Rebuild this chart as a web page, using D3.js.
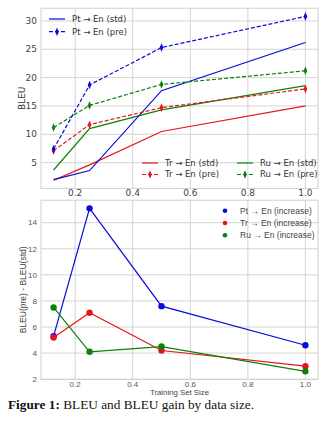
<!DOCTYPE html>
<html>
<head>
<meta charset="utf-8">
<script src="https://cdn.jsdelivr.net/npm/d3@7"></script>
<style>
body { margin: 0; background: white; }
svg { display: block; }
</style>
</head>
<body>
<div id="plot"></div>
<script>
// training set size (fraction)
var sizes = [0.125, 0.25, 0.5, 1.0];

// BLEU, top panel
var ptStd = [2.0, 3.6, 17.7, 26.2];
var ptPre = [7.4, 18.7, 25.3, 30.8];
var trStd = [1.9, 4.6, 10.5, 15.0];
var trPre = [7.1, 11.7, 14.7, 18.0];
var ruStd = [3.7, 11.0, 14.3, 18.6];
var ruPre = [11.2, 15.1, 18.8, 21.2];

// BLEU(pre) - BLEU(std), bottom panel
var ptInc = [5.3, 15.1, 7.6, 4.6];
var trInc = [5.2, 7.1, 4.2, 3.0];
var ruInc = [7.5, 4.1, 4.5, 2.6];

var xTicks = [0.2, 0.4, 0.6, 0.8, 1.0];
var yTicksTop = [5, 10, 15, 20, 25, 30];
var yTicksBot = [2, 4, 6, 8, 10, 12, 14];

var BLUE = '#0a0adc', RED = '#e8141c', GREEN = '#0a820a';

var width = 335, height = 427;
var svg = d3.select('#plot').append('svg')
    .attr('width', width)
    .attr('height', height);

var left = 41, right = 318;

// matplotlib style 5% margins
function padded(lo, hi) {
    var m = (hi - lo) * 0.05;
    return [lo - m, hi + m];
}

var x = d3.scaleLinear().domain(padded(0.125, 1.0)).range([left, right]);

function frame(y, ticks, font, tickColor, fontSize) {
    var g = svg.append('g');
    var y0 = y.range()[0], y1 = y.range()[1];
    // grid
    g.selectAll('.vg').data(xTicks).enter().append('line')
        .attr('x1', function(d) { return x(d); })
        .attr('x2', function(d) { return x(d); })
        .attr('y1', y0).attr('y2', y1)
        .attr('stroke', '#d4d4d4').attr('stroke-width', 1);
    g.selectAll('.hg').data(ticks).enter().append('line')
        .attr('x1', left).attr('x2', right)
        .attr('y1', function(d) { return y(d); })
        .attr('y2', function(d) { return y(d); })
        .attr('stroke', '#d4d4d4').attr('stroke-width', 1);
    g.append('rect')
        .attr('x', left).attr('y', y1)
        .attr('width', right - left).attr('height', y0 - y1)
        .attr('fill', 'none').attr('stroke', '#cfcfcf').attr('stroke-width', 1);
    // tick labels
    g.selectAll('.xt').data(xTicks).enter().append('text')
        .attr('x', function(d) { return x(d); })
        .attr('y', y0 + 1.5)
        .attr('dy', '0.71em')
        .attr('text-anchor', 'middle')
        .attr('font-family', font)
        .attr('font-size', fontSize)
        .attr('fill', tickColor)
        .text(d3.format('.1f'));
    g.selectAll('.yt').data(ticks).enter().append('text')
        .attr('x', left - 4)
        .attr('y', function(d) { return y(d); })
        .attr('dy', '0.35em')
        .attr('text-anchor', 'end')
        .attr('font-family', font)
        .attr('font-size', fontSize)
        .attr('fill', tickColor)
        .text(function(d) { return d; });
}

var diamond = d3.symbol().type(d3.symbolDiamond).size(16);

function series(y, data, color, dashed, marker) {
    var line = d3.line()
        .x(function(d, i) { return x(sizes[i]); })
        .y(function(d) { return y(d); });
    svg.append('path')
        .attr('d', line(data))
        .attr('fill', 'none')
        .attr('stroke', color)
        .attr('stroke-width', 1.2)
        .attr('stroke-dasharray', dashed ? '4,2' : null);
    if (marker == 'd') {
        svg.selectAll(null).data(data).enter().append('path')
            .attr('d', diamond)
            .attr('transform', function(d, i) {
                return 'translate(' + x(sizes[i]) + ',' + y(d) + ') scale(0.85,1.15)';
            })
            .attr('fill', color);
    } else if (marker == 'o') {
        svg.selectAll(null).data(data).enter().append('circle')
            .attr('cx', function(d, i) { return x(sizes[i]); })
            .attr('cy', function(d) { return y(d); })
            .attr('r', 3.2)
            .attr('fill', color);
    }
}

function legendLine(x0, y0, color, dashed, label, font, size) {
    svg.append('line')
        .attr('x1', x0).attr('x2', x0 + 16)
        .attr('y1', y0).attr('y2', y0)
        .attr('stroke', color).attr('stroke-width', 1.2)
        .attr('stroke-dasharray', dashed ? '4,2' : null);
    if (dashed)
        svg.append('path')
            .attr('d', diamond)
            .attr('transform', 'translate(' + (x0 + 8) + ',' + y0 + ') scale(0.85,1.15)')
            .attr('fill', color);
    svg.append('text')
        .attr('x', x0 + 23).attr('y', y0)
        .attr('dy', '0.35em')
        .attr('font-family', font)
        .attr('font-size', size)
        .attr('fill', '#333')
        .text(label);
}

// TOP PANEL

var yTop = d3.scaleLinear().domain(padded(1.9, 30.8)).range([188.4, 8.2]);
var topFont = 'DejaVu Sans';
frame(yTop, yTicksTop, topFont, '#444', 9);

series(yTop, trStd, RED, false);
series(yTop, ruStd, GREEN, false);
series(yTop, ptStd, BLUE, false);
series(yTop, trPre, RED, true, 'd');
series(yTop, ruPre, GREEN, true, 'd');
series(yTop, ptPre, BLUE, true, 'd');

svg.append('text')
    .attr('transform', 'translate(22,' + ((188.4 + 8.2) / 2) + ') rotate(-90)')
    .attr('dy', '0.35em')
    .attr('text-anchor', 'middle')
    .attr('font-family', topFont)
    .attr('font-size', 9)
    .attr('fill', '#333')
    .text('BLEU');

legendLine(49, 19, BLUE, false, 'Pt \u2192 En (std)', topFont, 8.5);
legendLine(49, 31.7, BLUE, true, 'Pt \u2192 En (pre)', topFont, 8.5);
legendLine(142, 163, RED, false, 'Tr \u2192 En (std)', topFont, 8.5);
legendLine(142, 174.5, RED, true, 'Tr \u2192 En (pre)', topFont, 8.5);
legendLine(237, 163, GREEN, false, 'Ru \u2192 En (std)', topFont, 8.5);
legendLine(237, 174.5, GREEN, true, 'Ru \u2192 En (pre)', topFont, 8.5);

// BOTTOM PANEL

var yBot = d3.scaleLinear().domain(padded(2.6, 15.1)).range([379.5, 200.2]);
var botFont = 'Liberation Sans';
frame(yBot, yTicksBot, botFont, '#555', 8);

series(yBot, ptInc, BLUE, false, 'o');
series(yBot, trInc, RED, false, 'o');
series(yBot, ruInc, GREEN, false, 'o');

svg.append('text')
    .attr('transform', 'translate(23,' + ((379.5 + 200.2) / 2) + ') rotate(-90)')
    .attr('dy', '0.35em')
    .attr('text-anchor', 'middle')
    .attr('font-family', botFont)
    .attr('font-size', 8.5)
    .attr('fill', '#444')
    .text('BLEU(pre) - BLEU(std)');

svg.append('text')
    .attr('x', (left + right) / 2)
    .attr('y', 392.5)
    .attr('dy', '0.35em')
    .attr('text-anchor', 'middle')
    .attr('font-family', botFont)
    .attr('font-size', 7.8)
    .attr('fill', '#444')
    .text('Training Set Size');

var botLegend = [['Pt \u2192 En (increase)', BLUE], ['Tr \u2192 En (increase)', RED], ['Ru \u2192 En (increase)', GREEN]];
botLegend.forEach(function(d, i) {
    var ly = 210.8 + i * 12.2;
    svg.append('circle')
        .attr('cx', 225).attr('cy', ly).attr('r', 2.3)
        .attr('fill', d[1]);
    svg.append('text')
        .attr('x', 240).attr('y', ly)
        .attr('dy', '0.35em')
        .attr('font-family', botFont)
        .attr('font-size', 8.5)
        .attr('fill', '#444')
        .text(d[0]);
});

// CAPTION

var cap = svg.append('text')
    .attr('x', 8)
    .attr('y', 409)
    .attr('font-family', 'Liberation Serif')
    .attr('font-size', 13.3)
    .attr('fill', '#111');
cap.append('tspan').attr('font-weight', 'bold').text('Figure 1:');
cap.append('tspan').text(' BLEU and BLEU gain by data size.');
</script>
</body>
</html>
